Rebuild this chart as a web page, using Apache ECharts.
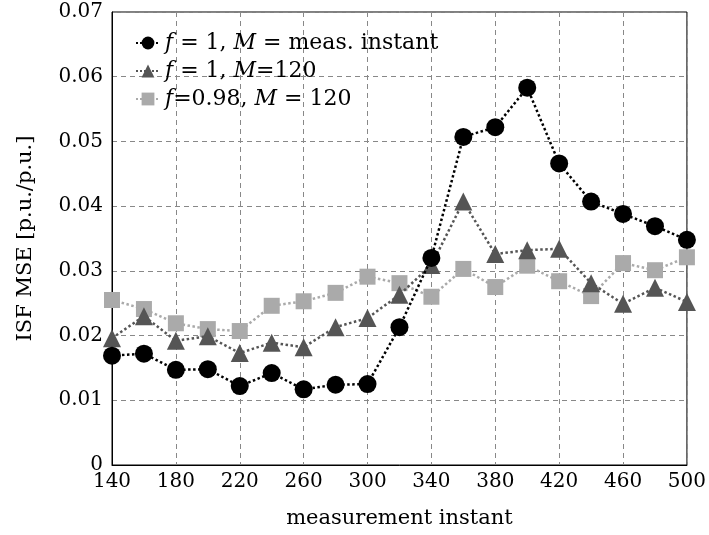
<!DOCTYPE html>
<html><head><meta charset="utf-8">
<script src="https://cdn.jsdelivr.net/npm/echarts@6/dist/echarts.min.js"></script>
<style>html,body{margin:0;padding:0;background:#fff}#c{width:709px;height:535px}</style>
</head><body><div id="c"></div>
<script>
const categories = ['140','160','180','200','220','240','260','280','300','320','340','360','380','400','420','440','460','480','500'];
const seriesNames = ['s1','s2','s3'];
const circleVals = [0.0169,0.0172,0.0147,0.0148,0.0122,0.0142,0.0117,0.0124,0.0125,0.0213,0.0320,0.0507,0.0522,0.0583,0.0466,0.0407,0.0388,0.0369,0.0348];
const triangleVals = [0.0196,0.0230,0.0192,0.0199,0.0173,0.0189,0.0182,0.0213,0.0227,0.0263,0.0309,0.0407,0.0326,0.0332,0.0334,0.0281,0.0249,0.0274,0.0252];
const squareVals = [0.0255,0.0241,0.0219,0.0210,0.0207,0.0246,0.0253,0.0266,0.0291,0.0281,0.0260,0.0303,0.0275,0.0308,0.0284,0.0261,0.0312,0.0301,0.0321];
const yTicks = [0,0.01,0.02,0.03,0.04,0.05,0.06,0.07];

const legendText = {
  s1: '{i|f} = 1, {i|M} = meas. instant',
  s2: '{i|f} = 1, {i|M}=120',
  s3: '{i|f}=0.98, {i|M} = 120'
};
const font = 'DejaVu Serif';
const chart = echarts.init(document.getElementById('c'));
chart.setOption({
  animation: false,
  backgroundColor: '#fff',
  grid: {left: 112, right: 20, top: 12, bottom: 70, show: true, borderColor: '#000', borderWidth: 1},
  legend: {
    left: 130, top: 27, orient: 'vertical', itemGap: 6, itemWidth: 24, itemHeight: 16,
    data: seriesNames,
    formatter: n => legendText[n],
    textStyle: {fontFamily: font, fontSize: 22, color: '#000',
      rich: {i: {fontFamily: font, fontStyle: 'italic', fontSize: 22, color: '#000'}}}
  },
  xAxis: {
    type: 'category', data: categories, boundaryGap: false,
    name: 'measurement instant', nameLocation: 'middle', nameGap: 43,
    nameTextStyle: {fontFamily: font, fontSize: 21, color: '#000'},
    axisLine: {lineStyle: {color: '#000', width: 1}},
    axisTick: {show: false},
    axisLabel: {interval: 1, fontFamily: font, fontSize: 20, color: '#000', margin: 7},
    splitLine: {show: true, interval: 1, lineStyle: {type: [5, 4], color: '#888', width: 1}}
  },
  yAxis: {
    type: 'value', min: 0, max: 0.07, interval: 0.01,
    name: 'ISF MSE [p.u./p.u.]', nameLocation: 'middle', nameGap: 76,
    nameTextStyle: {fontFamily: font, fontSize: 21, color: '#000'},
    axisLine: {show: true, lineStyle: {color: '#000', width: 1}},
    axisTick: {show: false},
    axisLabel: {fontFamily: font, fontSize: 20, color: '#000', margin: 9,
      formatter: v => { const t = yTicks.find(x => Math.abs(x - v) < 1e-9); return t === 0 ? '0' : (t !== undefined ? t.toFixed(2) : ''); }},
    splitLine: {show: true, lineStyle: {type: [5, 4], color: '#888', width: 1}}
  },
  series: [
    {name: 's1', type: 'line', data: circleVals, symbol: 'circle', symbolSize: 18,
     itemStyle: {color: '#000'}, lineStyle: {type: 'dotted', width: 2.5, color: '#000'}, z: 4},
    {name: 's2', type: 'line', data: triangleVals, symbol: 'triangle', symbolSize: 18,
     itemStyle: {color: '#555'}, lineStyle: {type: 'dotted', width: 2.5, color: '#555'}, z: 3},
    {name: 's3', type: 'line', data: squareVals, symbol: 'rect', symbolSize: 16,
     itemStyle: {color: '#aaa'}, lineStyle: {type: 'dotted', width: 2.5, color: '#aaa'}, z: 2}
  ]
});
</script></body></html>
